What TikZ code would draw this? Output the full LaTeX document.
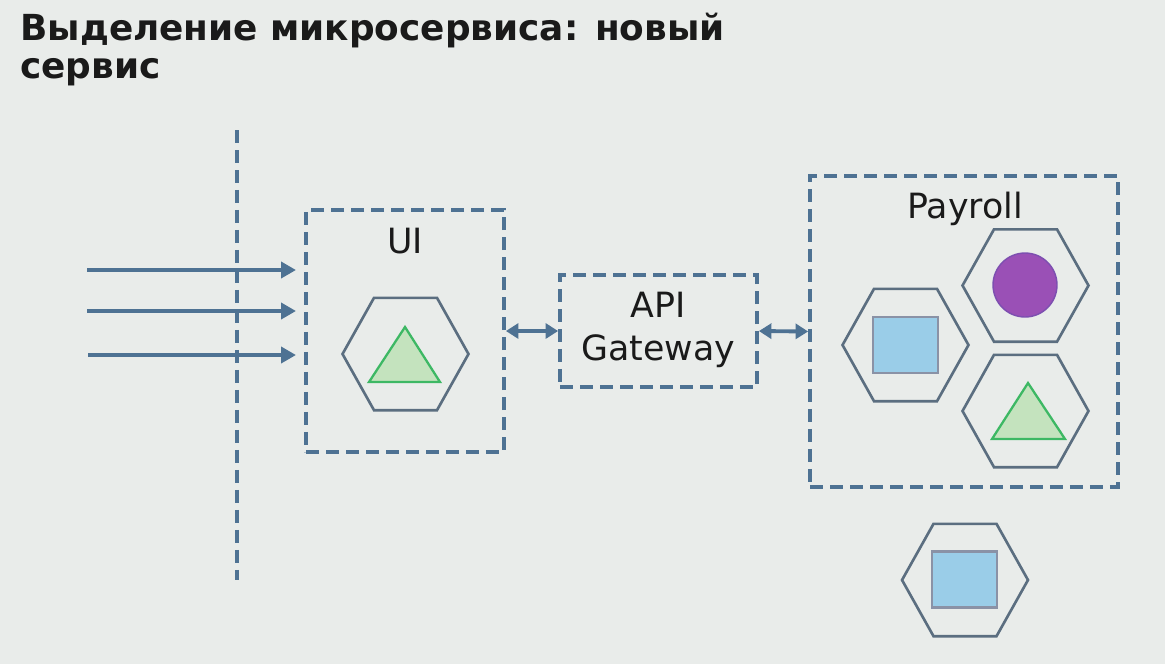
\documentclass[tikz,border=0pt]{standalone}
\usepackage{fontspec}
\setmainfont{DejaVu Sans}
\usetikzlibrary{arrows.meta,shapes.geometric}
\definecolor{bg}{HTML}{E9ECEA}
\definecolor{dashc}{HTML}{4E7293}
\definecolor{hexc}{HTML}{5B6E80}
\definecolor{txt}{HTML}{1A1A1A}
\definecolor{trifill}{HTML}{C4E3BE}
\definecolor{triline}{HTML}{3DB864}
\definecolor{sqfill}{HTML}{9ACDE8}
\definecolor{sqline}{HTML}{8A92A6}
\definecolor{circfill}{HTML}{9A50B6}
\definecolor{circline}{HTML}{7D4FB0}
\tikzset{
  dbox/.style={draw=dashc, line width=2.2pt, dash pattern=on 0.26cm off 0.14cm, inner sep=0pt},
  lbl/.style={text=txt, font=\fontsize{19.8}{24.4}\selectfont, inner sep=0pt},
  hexa/.style={draw=hexc, line width=1.5pt, regular polygon, regular polygon sides=6, minimum size=2.52cm, inner sep=0pt, yscale=1.03},
  tri/.style={fill=trifill, draw=triline, line width=1.3pt, line join=miter},
  sq/.style={fill=sqfill, draw=sqline, line width=1.5pt, minimum width=1.3cm, minimum height=1.12cm, inner sep=0pt},
  circ/.style={circle, fill=circfill, draw=circline, line width=0.8pt, minimum size=1.28cm, inner sep=0pt},
  inarrow/.style={draw=dashc, line width=2.6pt, -{Triangle[length=0.3cm,width=0.32cm]}},
  dblarrow/.style={draw=dashc, line width=2.2pt, {Triangle[length=0.25cm,width=0.3cm]}-{Triangle[length=0.25cm,width=0.3cm]}},
}
\begin{document}
\begin{tikzpicture}[x=0.02cm,y=-0.02cm]
\fill[bg] (0,0) rectangle (1165,664);
\useasboundingbox (0,0) rectangle (1165,664);

% title
\node[anchor=base west, align=left, text=txt, inner sep=0pt,
      font=\fontsize{20.4}{21.6}\bfseries\selectfont] (title) at (20,78)
  {Выделение микросервиса: новый\\сервис};

% vertical dashed boundary
\coordinate (vtop) at (237,130);
\coordinate (vbot) at (237,580);
\draw[draw=dashc, line width=2.2pt, dash pattern=on 0.26cm off 0.14cm] (vtop) -- (vbot);

% boxes
\node[dbox, minimum width=3.96cm, minimum height=4.84cm] (ui) at (405,331) {};
\node[dbox, minimum width=3.94cm, minimum height=2.24cm] (api) at (658.5,331) {};
\node[dbox, minimum width=6.16cm, minimum height=6.22cm] (pay) at (964,331.5) {};

% labels
\node[lbl, anchor=base] (uilbl) at (405,253) {UI};
\node[lbl, anchor=base, align=center] (apilbl) at (658.5,360) {API\\Gateway};
\node[lbl, anchor=base] (paylbl) at (965,218) {Payroll};

% incoming arrows
\coordinate (s1) at (87,270);
\coordinate (e1) at (296,270);
\coordinate (s2) at (87,311);
\coordinate (e2) at (296,311);
\coordinate (s3) at (88,355);
\coordinate (e3) at (296,355);
\draw[inarrow] (s1) -- (e1);
\draw[inarrow] (s2) -- (e2);
\draw[inarrow] (s3) -- (e3);

% double arrows
\draw[dblarrow] (ui.east) -- (api.west);
\draw[dblarrow] (api.east) -- (pay.west);

% UI hexagon
\node[hexa] (h1) at (405.5,354) {};
\draw[tri] (369,382) -- (440,382) -- (405,327) -- cycle;

% Payroll hexagons
\node[hexa] (h2) at (905.5,345) {};
\node[sq] (sq2) at (905.5,345) {};
\node[hexa] (h3) at (1025.5,285.5) {};
\node[circ] (c3) at (1025,285) {};
\node[hexa] (h4) at (1025.5,411) {};
\draw[tri] (992,439) -- (1065,439) -- (1028,383) -- cycle;

% separate hexagon
\node[hexa] (h5) at (965,580) {};
\node[sq] (sq5) at (964.5,579.5) {};
\end{tikzpicture}
\end{document}
